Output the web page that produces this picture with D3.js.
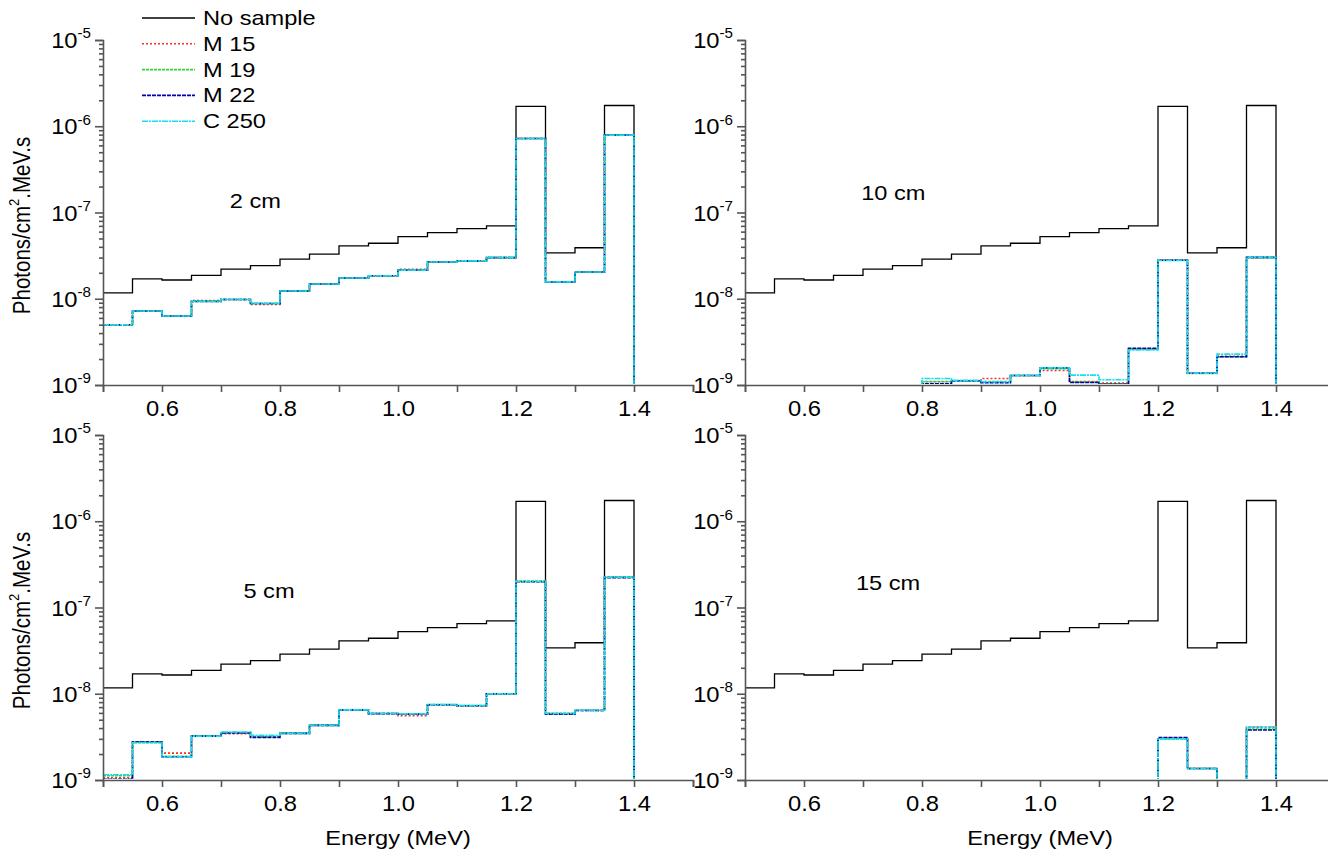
<!DOCTYPE html>
<html>
<head>
<meta charset="utf-8">
<script src="https://cdn.jsdelivr.net/npm/d3@7"></script>
<style>
    body { margin: 0; background: #fff; }
    svg { display: block; font-family: "Liberation Sans", Arial, sans-serif; }
    .axis path, .axis line { stroke: #555; stroke-width: 1.6; }
</style>
</head>
<body>
<svg id="chart" width="1328" height="849"></svg>
<script>
'use strict';

// bins of 0.05 MeV, left edges; last bin closes at 1.40
const binStart = [0.50, 0.55, 0.60, 0.65, 0.70, 0.75, 0.80, 0.85, 0.90,
    0.95, 1.00, 1.05, 1.10, 1.15, 1.20, 1.25, 1.30, 1.35];
const binEnd = 1.40;

const seriesNames = ["No sample", "M 15", "M 19", "M 22", "C 250"];

// no sample (same in every panel)
const noSample = [1.17e-8, 1.70e-8, 1.65e-8, 1.87e-8, 2.20e-8, 2.42e-8, 2.88e-8, 3.30e-8, 4.10e-8,
    4.40e-8, 5.25e-8, 5.85e-8, 6.50e-8, 7.00e-8, 1.70e-6, 3.40e-8, 3.90e-8, 1.74e-6];

// 2 cm
const m15_2cm = [5.0e-9, 7.2e-9, 6.3e-9, 9.5e-9, 9.8e-9, 8.6e-9, 1.22e-8, 1.48e-8, 1.74e-8,
    1.85e-8, 2.20e-8, 2.67e-8, 2.75e-8, 3.0e-8, 7.2e-7, 1.57e-8, 2.04e-8, 7.9e-7];
const m19_2cm = [5.0e-9, 7.2e-9, 6.3e-9, 9.4e-9, 9.8e-9, 8.8e-9, 1.23e-8, 1.48e-8, 1.74e-8,
    1.85e-8, 2.15e-8, 2.67e-8, 2.75e-8, 3.0e-8, 7.2e-7, 1.57e-8, 2.04e-8, 7.9e-7];
const m22_2cm = [5.0e-9, 7.2e-9, 6.3e-9, 9.3e-9, 9.8e-9, 8.8e-9, 1.23e-8, 1.48e-8, 1.74e-8,
    1.85e-8, 2.15e-8, 2.67e-8, 2.75e-8, 3.0e-8, 7.2e-7, 1.57e-8, 2.04e-8, 7.9e-7];
const c250_2cm = [5.0e-9, 7.2e-9, 6.3e-9, 9.3e-9, 9.8e-9, 8.8e-9, 1.23e-8, 1.48e-8, 1.74e-8,
    1.85e-8, 2.15e-8, 2.67e-8, 2.75e-8, 3.0e-8, 7.2e-7, 1.57e-8, 2.04e-8, 7.9e-7];

// 5 cm
const m15_5cm = [1.06e-9, 2.76e-9, 2.05e-9, 3.23e-9, 3.45e-9, 3.15e-9, 3.47e-9, 4.3e-9, 6.45e-9,
    5.9e-9, 5.55e-9, 7.45e-9, 7.25e-9, 1.0e-8, 2.0e-7, 5.9e-9, 6.4e-9, 2.24e-7];
const m19_5cm = [1.12e-9, 2.70e-9, 1.88e-9, 3.25e-9, 3.55e-9, 3.2e-9, 3.5e-9, 4.35e-9, 6.5e-9,
    5.9e-9, 5.8e-9, 7.5e-9, 7.3e-9, 1.0e-8, 2.02e-7, 5.95e-9, 6.45e-9, 2.26e-7];
const m22_5cm = [1.02e-9, 2.78e-9, 1.86e-9, 3.23e-9, 3.5e-9, 3.12e-9, 3.47e-9, 4.3e-9, 6.5e-9,
    5.88e-9, 5.8e-9, 7.45e-9, 7.25e-9, 1.0e-8, 1.99e-7, 5.8e-9, 6.4e-9, 2.22e-7];
const c250_5cm = [1.15e-9, 2.72e-9, 1.86e-9, 3.23e-9, 3.6e-9, 3.3e-9, 3.47e-9, 4.3e-9, 6.5e-9,
    5.9e-9, 5.85e-9, 7.5e-9, 7.3e-9, 1.0e-8, 2.0e-7, 5.9e-9, 6.45e-9, 2.24e-7];

// 10 cm (0 = below the axis)
const m15_10cm = [0, 0, 0, 0, 0, 0, 1.10e-9, 1.12e-9, 1.19e-9,
    1.29e-9, 1.47e-9, 1.10e-9, 1.05e-9, 2.6e-9, 2.8e-8, 1.37e-9, 2.15e-9, 3.0e-8];
const m19_10cm = [0, 0, 0, 0, 0, 0, 1.09e-9, 1.12e-9, 1.10e-9,
    1.29e-9, 1.55e-9, 1.08e-9, 1.03e-9, 2.6e-9, 2.8e-8, 1.36e-9, 2.13e-9, 3.0e-8];
const m22_10cm = [0, 0, 0, 0, 0, 0, 1.03e-9, 1.12e-9, 1.06e-9,
    1.29e-9, 1.58e-9, 1.07e-9, 1.02e-9, 2.67e-9, 2.8e-8, 1.37e-9, 2.13e-9, 3.02e-8];
const c250_10cm = [0, 0, 0, 0, 0, 0, 1.19e-9, 1.13e-9, 1.09e-9,
    1.29e-9, 1.58e-9, 1.30e-9, 1.15e-9, 2.55e-9, 2.78e-8, 1.37e-9, 2.28e-9, 3.02e-8];

// 15 cm
const m15_15cm = [0, 0, 0, 0, 0, 0, 0, 0, 0, 0, 0, 0, 0, 0, 3.05e-9, 1.36e-9, 0, 4.1e-9];
const m19_15cm = [0, 0, 0, 0, 0, 0, 0, 0, 0, 0, 0, 0, 0, 0, 3.0e-9, 1.36e-9, 0, 3.9e-9];
const m22_15cm = [0, 0, 0, 0, 0, 0, 0, 0, 0, 0, 0, 0, 0, 0, 3.11e-9, 1.36e-9, 0, 3.8e-9];
const c250_15cm = [0, 0, 0, 0, 0, 0, 0, 0, 0, 0, 0, 0, 0, 0, 3.0e-9, 1.36e-9, 0, 4.12e-9];

// axis ticks
const xTicks = [0.5, 0.6, 0.7, 0.8, 0.9, 1.0, 1.1, 1.2, 1.3, 1.4, 1.5];
const xTickLabels = ["", "0.6", "", "0.8", "", "1.0", "", "1.2", "", "1.4", ""];
const yDecades = [1e-9, 1e-8, 1e-7, 1e-6, 1e-5];
const yExponents = ["-9", "-8", "-7", "-6", "-5"];

// styles
const colors = ["#000000", "#ff2a2a", "#2ed82e", "#0000b4", "#12e0f0"];
const dashes = [null, "2,2", "3,1", "4,1", "6,1,2,1"];
const widths = [1.3, 1.6, 1.6, 1.6, 1.6];

// the source picture is stretched sideways, so text gets a horizontal scale
const TICK_FS = 22, TICK_SX = 1.08;
const TEXT_FS = 20, TEXT_SX = 1.18;

const svg = d3.select("#chart");

const panels = [
    { label: "2 cm", left: 103, top: 40, series: [noSample, m15_2cm, m19_2cm, m22_2cm, c250_2cm],
      labelAt: [0.715, 168], yTitle: true, xTitle: false },
    { label: "10 cm", left: 745, top: 40, series: [noSample, m15_10cm, m19_10cm, m22_10cm, c250_10cm],
      labelAt: [0.697, 160], yTitle: false, xTitle: false },
    { label: "5 cm", left: 103, top: 435, series: [noSample, m15_5cm, m19_5cm, m22_5cm, c250_5cm],
      labelAt: [0.738, 163], yTitle: true, xTitle: true },
    { label: "15 cm", left: 745, top: 435, series: [noSample, m15_15cm, m19_15cm, m22_15cm, c250_15cm],
      labelAt: [0.688, 155], yTitle: false, xTitle: true }
];
const plotW = 590, plotH = 345;

function stretchText(g, x, y, str, size, sx) {
    return g.append("text")
        .attr("transform", "translate(" + x + "," + y + ") scale(" + sx + ",1)")
        .attr("font-size", size)
        .text(str);
}

panels.forEach((p, pi) => {
    const g = svg.append("g").attr("transform", "translate(" + p.left + "," + p.top + ")");

    // clip: anything at or under the bottom axis is hidden (zero counts)
    svg.append("defs").append("clipPath").attr("id", "clip" + pi)
        .append("rect").attr("x", -2).attr("y", -2).attr("width", plotW + 4).attr("height", plotH + 1);

    const x = d3.scaleLinear().domain([0.5, 1.5]).range([0, plotW]);
    const y = d3.scaleLog().domain([1e-9, 1e-5]).range([plotH, 0]);

    const line = d3.line()
        .curve(d3.curveStepAfter)
        .x(d => x(d[0]))
        .y(d => d[1] > 0 ? y(d[1]) : plotH + 4);

    const lines = g.append("g").attr("clip-path", "url(#clip" + pi + ")");
    p.series.forEach((vals, i) => {
        const pts = binStart.map((e, k) => [e, vals[k]]);
        pts.push([binEnd, 0]);
        lines.append("path")
            .attr("d", line(pts))
            .attr("fill", "none")
            .attr("stroke", colors[i])
            .attr("stroke-width", widths[i])
            .attr("stroke-dasharray", dashes[i]);
    });

    // x axis
    const xAxis = g.append("g")
        .attr("class", "axis")
        .attr("transform", "translate(0," + plotH + ")")
        .call(d3.axisBottom(x).tickValues(xTicks).tickSize(7).tickPadding(8)
            .tickFormat((d, i) => xTickLabels[i]));
    xAxis.selectAll("text")
        .attr("font-size", TICK_FS).attr("fill", "#000")
        .attr("transform", "scale(" + TICK_SX + ",1)");

    // y minor ticks
    const minors = [];
    yDecades.slice(0, -1).forEach(d => {
        for (let m = 2; m <= 9; m++) minors.push(d * m);
    });
    g.append("g")
        .attr("class", "axis")
        .call(d3.axisLeft(y).tickValues(minors).tickSize(4).tickFormat(""))
        .select(".domain").remove();

    // y major ticks
    const yAxis = g.append("g")
        .attr("class", "axis")
        .call(d3.axisLeft(y).tickValues(yDecades).tickSize(8).tickPadding(4).tickFormat(""));
    yAxis.selectAll(".tick text").each(function (d, i) {
        const t = d3.select(this)
            .attr("font-size", TICK_FS).attr("fill", "#000")
            .attr("x", -12 / TICK_SX)
            .attr("dy", "0.35em")
            .attr("transform", "scale(" + TICK_SX + ",1)");
        t.text("10");
        t.append("tspan").attr("font-size", 14).attr("dy", "-0.71em").text(yExponents[i]);
    });

    // panel label
    stretchText(g, x(p.labelAt[0]), p.labelAt[1], p.label, TEXT_FS, TEXT_SX);

    if (p.yTitle) {
        const tt = g.append("text")
            .attr("transform", "translate(" + (30 - p.left) + "," + (plotH / 2 + 13) + ") scale(" + TEXT_SX + ",1) rotate(-90)")
            .attr("text-anchor", "middle")
            .attr("font-size", 20.5);
        tt.append("tspan").text("Photons/cm");
        tt.append("tspan").attr("font-size", 13).attr("dy", "-0.7em").text("2");
        tt.append("tspan").attr("dy", "0.45em").text(".MeV.s");
    }
    if (p.xTitle) {
        stretchText(g, plotW / 2, plotH + 65, "Energy (MeV)", TEXT_FS, TEXT_SX).attr("text-anchor", "middle");
    }
});

// legend
const legend = svg.append("g").attr("transform", "translate(142,18)");
seriesNames.forEach((name, i) => {
    const row = legend.append("g").attr("transform", "translate(0," + (i * 25.8) + ")");
    row.append("line")
        .attr("x1", 0).attr("x2", 53)
        .attr("stroke", colors[i])
        .attr("stroke-width", widths[i])
        .attr("stroke-dasharray", dashes[i]);
    stretchText(row, 61, 7, name, TEXT_FS, TEXT_SX);
});
</script>
</body>
</html>
